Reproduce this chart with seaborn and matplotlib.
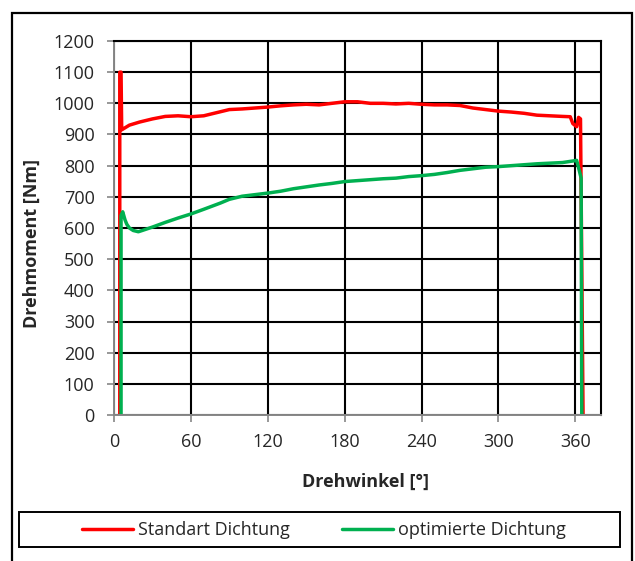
import pandas as pd
import seaborn as sns
import matplotlib.pyplot as plt
from matplotlib.patches import Rectangle

# Standart Dichtung (red)
std_x = [4.5, 4.5, 5.5, 6, 8, 12, 20, 30, 40, 50, 60, 70, 80, 90, 100, 110, 120,
         130, 140, 150, 160, 170, 180, 190, 200, 210, 220, 230, 240, 250, 260,
         270, 280, 290, 300, 310, 320, 330, 340, 350, 356, 358, 361, 362.5, 364, 366]
std_y = [0, 1100, 1100, 915, 920, 930, 940, 950, 958, 960, 957, 960, 970, 980,
         982, 985, 988, 992, 995, 997, 995, 1000, 1005, 1005, 1000, 1000, 998,
         1000, 997, 995, 995, 993, 985, 980, 975, 972, 968, 962, 960, 958, 957,
         935, 925, 955, 950, 0]

# optimierte Dichtung (green)
opt_x = [5.5, 5.5, 6.8, 8.6, 10, 12, 15, 19, 22, 30, 40, 50, 60, 70, 83, 90, 100,
         110, 120, 130, 140, 150, 160, 170, 180, 190, 200, 210, 220, 230, 240,
         250, 260, 270, 280, 290, 300, 310, 320, 330, 340, 350, 358, 361, 363,
         364.5, 365]
opt_y = [0, 640, 652, 626, 612, 600, 592, 588, 592, 603, 618, 632, 645, 660, 680,
         692, 702, 707, 712, 718, 726, 732, 738, 743, 749, 752, 755, 758, 760,
         765, 768, 772, 778, 785, 790, 795, 797, 800, 803, 806, 808, 810, 815,
         817, 785, 760, 0]

labels = ['Standart Dichtung', 'optimierte Dichtung']
colors = ['#FF0000', '#00B050']
series = [(std_x, std_y), (opt_x, opt_y)]

sns.set_style('white')
plt.rcParams['font.family'] = ['Open Sans', 'DejaVu Sans']
fs = 13

fig = plt.figure(figsize=(6.35, 5.61), dpi=100)
ax = fig.add_axes([114 / 635, 1 - 415 / 561, 487 / 635, 374 / 561])

# one line per series, points kept in drawing order (vertical segments)
for (xs, ys), name, c in zip(series, labels, colors):
    sns.lineplot(x=xs, y=ys, sort=False, estimator=None, color=c,
                 linewidth=2.5, ax=ax, label=name)

ax.set_xlim(0, 380)
ax.set_ylim(0, 1200)
ax.set_xticks(range(0, 361, 60))
ax.set_yticks(range(0, 1201, 100))
ax.grid(True, color='black', linewidth=1.5)
ax.set_axisbelow(True)
for s in ['left', 'bottom']:
    ax.spines[s].set_color('#868686')
    ax.spines[s].set_linewidth(1.4)
for s in ['top', 'right']:
    ax.spines[s].set_color('black')
    ax.spines[s].set_linewidth(1.5)
ax.tick_params(axis='both', direction='out', length=5, width=1.2, color='#868686',
               labelsize=fs, left=True, bottom=True)
ax.tick_params(axis='y', pad=9)
ax.tick_params(axis='x', pad=8)

ax.set_xlabel('Drehwinkel [°]', fontsize=fs, fontweight='bold', va='center')
ax.xaxis.set_label_coords((366 - 114) / 487, (415 - 482) / 374)
ax.set_ylabel('Drehmoment [Nm]', fontsize=fs, fontweight='bold', va='center')
ax.yaxis.set_label_coords((32 - 114) / 487, 1 - (244 - 41) / 374)

ax.get_legend().remove()
fig.legend(ax.get_lines(), labels, loc='center', bbox_to_anchor=(324 / 635, 1 - 530 / 561),
           ncol=2, frameon=False, fontsize=fs, handlelength=2.8,
           handletextpad=0.3, columnspacing=2.9)

# legend box and outer chart border
fig.patches.append(Rectangle((19 / 635, 1 - 547 / 561), 601 / 635, 35 / 561,
                             transform=fig.transFigure, fill=False,
                             edgecolor='black', linewidth=1.4))
fig.patches.append(Rectangle((12 / 635, -0.05), 620 / 635, 1.05 - 13 / 561,
                             transform=fig.transFigure, fill=False,
                             edgecolor='black', linewidth=1.6))

fig.savefig('out.png', dpi=100)
